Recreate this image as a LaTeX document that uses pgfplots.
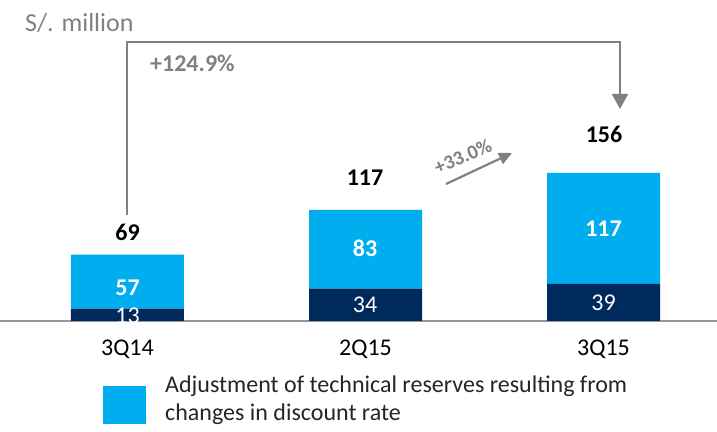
\documentclass[border=0pt]{standalone}
\usepackage{pgfplots}
\pgfplotsset{compat=1.18}
\usetikzlibrary{arrows.meta}
\usepackage{fontspec}
\setmainfont{Carlito}
\definecolor{lb}{RGB}{0,174,239}
\definecolor{nv}{RGB}{0,42,92}
\definecolor{gr}{RGB}{128,128,128}
\definecolor{axc}{RGB}{150,150,150}
\definecolor{tx}{RGB}{38,38,38}
\newcommand{\fs}[1]{\fontsize{#1bp}{#1bp}\selectfont}
\begin{document}
\begin{tikzpicture}
\path[use as bounding box] (0,0) rectangle (717bp,432bp);
\begin{axis}[
  at={(0bp,111bp)}, anchor=south west,
  scale only axis, width=717bp, height=321bp,
  xmin=-0.5357, xmax=2.4769, ymin=0, ymax=338,
  ybar stacked, bar width=113bp,
  axis x line*=bottom, axis y line=none,
  axis line style={draw=axc, line width=1.5bp, -},
  xtick={0,1,2}, xticklabels={3Q14,2Q15,3Q15},
  major tick length=0,
  xticklabel style={font=\fs{24}, text=black, anchor=base, inner sep=0pt, yshift=-35bp},
  clip=false,
]
\addplot[fill=nv, draw=none] coordinates {(0,13) (1,34) (2,39)};
\addplot[fill=lb, draw=none] coordinates {(0,57) (1,83) (2,117)};
\end{axis}
\begin{scope}[x=1bp,y=-1bp,yshift=432bp]
  % value labels
  \node[anchor=base, inner sep=0pt, text=white, font=\fs{24}] at (127.5,324) {13};
  \node[anchor=base, inner sep=0pt, text=white, font=\fs{24}] at (365,313) {34};
  \node[anchor=base, inner sep=0pt, text=white, font=\fs{24}] at (603.5,311) {39};
  \node[anchor=base, inner sep=0pt, text=white, font=\bfseries\fs{24}] at (127.5,296) {57};
  \node[anchor=base, inner sep=0pt, text=white, font=\bfseries\fs{24}] at (365,257) {83};
  \node[anchor=base, inner sep=0pt, text=white, font=\bfseries\fs{24}] at (603.5,237) {117};
  \node[anchor=base, inner sep=0pt, text=black, font=\bfseries\fs{24}] at (127.5,241) {69};
  \node[anchor=base, inner sep=0pt, text=black, font=\bfseries\fs{24}] at (365,186) {117};
  \node[anchor=base, inner sep=0pt, text=black, font=\bfseries\fs{24}] at (604,143) {156};
  % unit
  \node[anchor=base west, inner sep=0pt, text=gr, font=\fs{26}] at (25,32) {S/. million};
  % growth arrows
  \draw[gr, line width=1.8bp, -{Triangle[width=16bp,length=15bp]}] (127,215) -- (127,42) -- (620,42) -- (620,109);
  \node[anchor=base west, inner sep=0pt, text=gr, font=\bfseries\fs{24}] at (150,72) {+124.9\%};
  \draw[gr, line width=2.2bp, -{Triangle[width=12bp,length=13bp]}] (446,184) -- (512,153);
  \node[rotate=23, inner sep=0pt, text=gr, font=\bfseries\fs{20}] at (463,156) {+33.0\%};
  % legend
  \fill[lb] (103,386) rectangle (146,424);
  \node[anchor=north west, align=left, inner sep=0pt, text=tx, font=\fontsize{24bp}{28bp}\selectfont] at (165,376) {Adjustment of technical reserves resulting from\\changes in discount rate};
\end{scope}
\end{tikzpicture}
\end{document}
